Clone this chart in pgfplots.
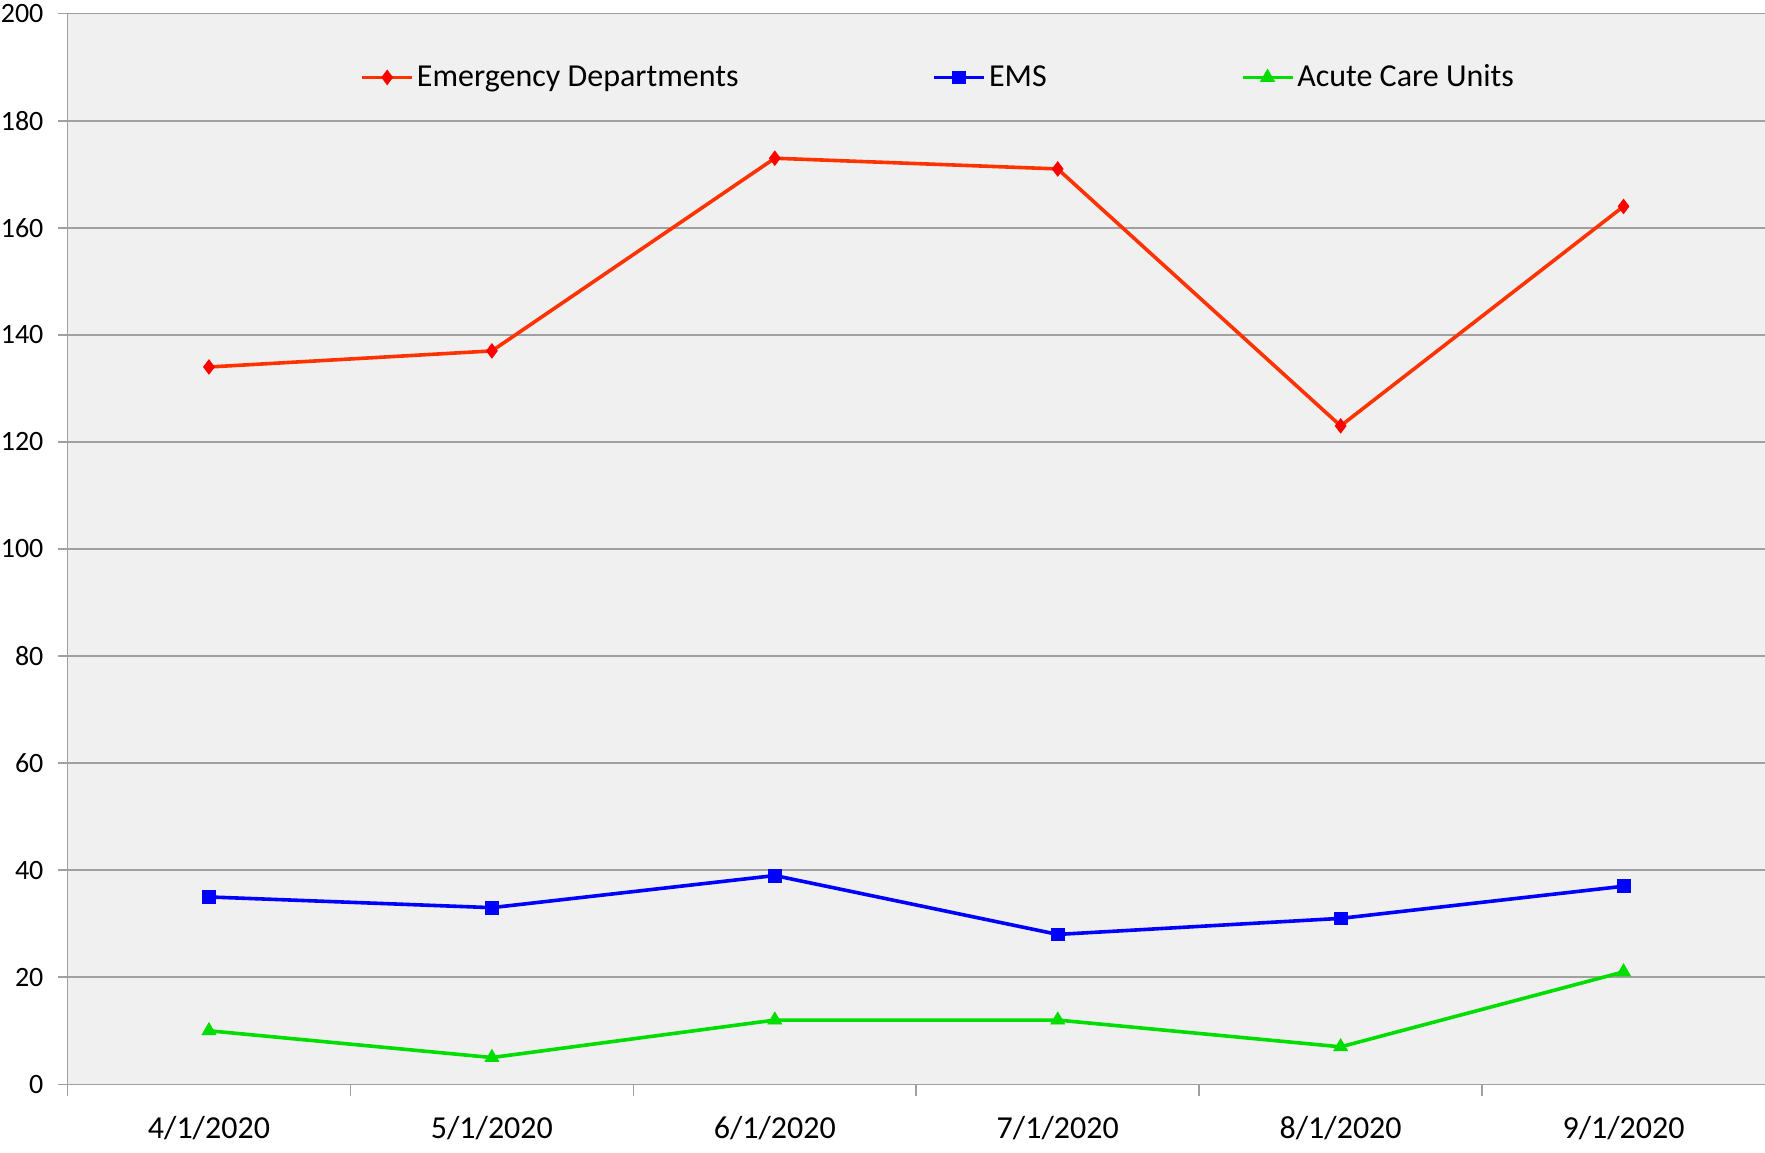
\documentclass[border=0pt]{standalone}
\usepackage{fontspec}
\setmainfont{Carlito}
\usepackage{pgfplots}
\pgfplotsset{compat=1.18}
\definecolor{edline}{HTML}{FF3300}
\definecolor{edmark}{HTML}{FF0000}
\definecolor{emsblue}{HTML}{0000FF}
\definecolor{acgreen}{HTML}{00DD00}
\definecolor{plotbg}{HTML}{F0F0F0}
\definecolor{gridgray}{HTML}{A0A0A0}
\begin{document}
\begin{tikzpicture}
\begin{axis}[
  at={(0,0)}, anchor=south west,
  scale only axis,
  width=848.75pt, height=535.3pt,
  xmin=-0.5, xmax=5.5, ymin=0, ymax=200,
  axis background/.style={fill=plotbg},
  axis x line*=bottom, axis y line*=left,
  axis line style={gridgray, line width=0.8pt},
  xtick={0,1,2,3,4,5},
  xticklabels={4/1/2020,5/1/2020,6/1/2020,7/1/2020,8/1/2020,9/1/2020},
  minor xtick={-0.5,0.5,1.5,2.5,3.5,4.5},
  ytick={0,20,...,200},
  ymajorgrids,
  grid style={gridgray, line width=0.8pt},
  tick align=outside,
  x tick style={draw=none},
  minor x tick style={draw=gridgray, line width=0.8pt},
  minor tick length=6pt,
  y tick style={draw=gridgray, line width=0.8pt},
  major tick length=4.5pt,
  /pgf/number format/assume math mode=true,
  yticklabel style={font=\fontsize{14}{16}\selectfont, anchor=east, xshift=-4pt},
  xticklabel style={font=\fontsize{16}{18}\selectfont, yshift=-8pt},
  legend style={draw=none, fill=none, at={(0.1723,0.9405)}, anchor=west,
    legend columns=-1, inner sep=0pt,
    font=\fontsize{16}{18}\selectfont,
    nodes={inner sep=1.5pt}},
  /tikz/every even column/.append style={column sep=95.5pt},
  legend image code/.code={\draw[mark repeat=2,mark phase=2] plot coordinates {(0pt,0pt) (12.5pt,0pt) (25pt,0pt)};},
]
\addplot[edline, line width=1.8pt, mark=diamond*, mark size=3.6pt, mark options={fill=edmark, draw=edmark, line width=0.4pt}]
  coordinates {(0,134) (1,137) (2,173) (3,171) (4,123) (5,164)};
\addlegendentry{Emergency Departments}
\addplot[emsblue, line width=1.8pt, mark=square*, mark size=3.2pt, mark options={fill=emsblue, line width=0.4pt}]
  coordinates {(0,35) (1,33) (2,39) (3,28) (4,31) (5,37)};
\addlegendentry{EMS}
\addplot[acgreen, line width=1.8pt, mark=triangle*, mark size=4pt, mark options={fill=acgreen, line width=0.4pt}]
  coordinates {(0,10) (1,5) (2,12) (3,12) (4,7) (5,21)};
\addlegendentry{Acute Care Units}
\end{axis}
\pgfresetboundingbox
\path (-33.75pt,-33.85pt) rectangle (848.75pt,542.15pt);
\end{tikzpicture}
\end{document}
